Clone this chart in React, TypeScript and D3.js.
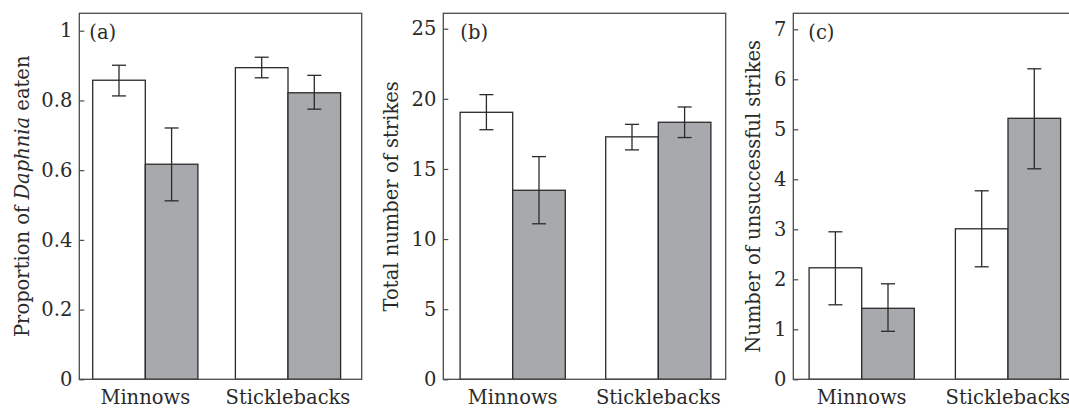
import React, { useEffect, useRef } from "react"
import * as d3 from "d3"

const categories = ["Minnows", "Sticklebacks"]
const series = ["open", "grey"]

// (a) proportion of Daphnia eaten
const propMean = [[0.858, 0.617], [0.894, 0.822]]
const propHi = [[0.901, 0.721], [0.924, 0.872]]
const propLo = [[0.813, 0.512], [0.865, 0.775]]
const propTicks = [0, 0.2, 0.4, 0.6, 0.8, 1]

// (b) total number of strikes
const totalMean = [[19.04, 13.48], [17.29, 18.33]]
const totalHi = [[20.3, 15.88], [18.18, 19.42]]
const totalLo = [[17.8, 11.09], [16.36, 17.24]]
const totalTicks = [0, 5, 10, 15, 20, 25]

// (c) number of unsuccessful strikes
const failMean = [[2.23, 1.42], [3.01, 5.22]]
const failHi = [[2.95, 1.91], [3.77, 6.21]]
const failLo = [[1.49, 0.96], [2.25, 4.21]]
const failTicks = [0, 1, 2, 3, 4, 5, 6, 7]

const FONT = "'DejaVu Serif', serif"
const INK = "#2a2a2a"

const panels = [
    { id: "a", left: 79.3, max: 1.05, mean: propMean, hi: propHi, lo: propLo, ticks: propTicks, fmt: d3.format(""), centers: [66, 208.7], tagDx: 10, labelX: 22 },
    { id: "b", left: 443.3, max: 26.1, mean: totalMean, hi: totalHi, lo: totalLo, ticks: totalTicks, fmt: d3.format("d"), centers: [69.4, 215], tagDx: 17, labelX: 391.7 },
    { id: "c", left: 793.3, max: 7.32, mean: failMean, hi: failHi, lo: failLo, ticks: failTicks, fmt: d3.format("d"), centers: [68.4, 214.7], tagDx: 15, labelX: 753.3 },
]

function App() {
    const ref = useRef(null)

    useEffect(() => {
        var svg = d3.select(ref.current)
        svg.selectAll("*").remove()

        var top = 13.3, bottom = 379.3, w = 282.4
        var barW = 52.6

        panels.forEach((p) => {
            var g = svg.append("g").attr("transform", `translate(${p.left},0)`)

            var y = d3.scaleLinear().domain([0, p.max]).range([bottom, top])
            var x = d3.scalePoint().domain(categories).range(p.centers)
            var xs = d3.scaleBand().domain(series).range([-barW, barW])

            // bars
            categories.forEach((c, i) => {
                var grp = g.append("g").attr("transform", `translate(${x(c)},0)`)
                grp.selectAll("rect")
                    .data(series)
                    .join("rect")
                    .attr("x", (s) => xs(s))
                    .attr("y", (s, j) => y(p.mean[i][j]))
                    .attr("width", xs.bandwidth())
                    .attr("height", (s, j) => bottom - y(p.mean[i][j]))
                    .attr("fill", (s) => (s === "open" ? "#ffffff" : "#a8a9ac"))
                    .attr("stroke", INK)
                    .attr("stroke-width", 1.3)

                // error bars
                var eb = grp.selectAll("g.eb")
                    .data(series)
                    .join("g")
                    .attr("class", "eb")
                    .attr("transform", (s) => `translate(${xs(s) + xs.bandwidth() / 2},0)`)
                eb.append("line")
                    .attr("y1", (s, j) => y(p.hi[i][j]))
                    .attr("y2", (s, j) => y(p.lo[i][j]))
                eb.append("line")
                    .attr("x1", -7).attr("x2", 7)
                    .attr("y1", (s, j) => y(p.hi[i][j]))
                    .attr("y2", (s, j) => y(p.hi[i][j]))
                eb.append("line")
                    .attr("x1", -7).attr("x2", 7)
                    .attr("y1", (s, j) => y(p.lo[i][j]))
                    .attr("y2", (s, j) => y(p.lo[i][j]))
                eb.selectAll("line").attr("stroke", INK).attr("stroke-width", 1.3)
            })

            // frame
            g.append("rect")
                .attr("x", 0).attr("y", top)
                .attr("width", w).attr("height", bottom - top)
                .attr("fill", "none")
                .attr("stroke", "#4a4a4a")
                .attr("stroke-width", 1.3)

            // y axis, ticks pointing inward
            var ax = g.append("g").call(
                d3.axisLeft(y).tickValues(p.ticks).tickFormat(p.fmt).tickSizeInner(-5).tickSizeOuter(0).tickPadding(7)
            )
            ax.select(".domain").remove()
            ax.selectAll("line").attr("stroke", "#4a4a4a").attr("stroke-width", 1.2)
            ax.selectAll("text").attr("font-family", FONT).attr("font-size", 19.5).attr("fill", INK)

            // category labels
            g.selectAll("text.cat")
                .data(categories)
                .join("text")
                .attr("class", "cat")
                .attr("x", (c) => x(c))
                .attr("y", 404)
                .attr("text-anchor", "middle")
                .attr("font-family", FONT)
                .attr("font-size", 19.5)
                .attr("fill", INK)
                .text((c) => c)

            // panel tag
            g.append("text")
                .attr("x", p.tagDx)
                .attr("y", 39)
                .attr("font-family", FONT)
                .attr("font-size", 19.5)
                .attr("fill", INK)
                .text(`(${p.id})`)
        })

        // y axis titles
        var titleY = (bottom + top) / 2
        var t = svg.selectAll("text.ttl")
            .data(panels)
            .join("text")
            .attr("class", "ttl")
            .attr("transform", (p) => `translate(${p.labelX},${titleY}) rotate(-90)`)
            .attr("text-anchor", "middle")
            .attr("dominant-baseline", "central")
            .attr("font-family", FONT)
            .attr("font-size", 19.5)
            .attr("fill", INK)

        t.filter((p) => p.id === "a").each(function () {
            var el = d3.select(this)
            el.append("tspan").text("Proportion of ")
            el.append("tspan").attr("font-style", "italic").text("Daphnia")
            el.append("tspan").text(" eaten")
        })
        t.filter((p) => p.id === "b").text("Total number of strikes")
        t.filter((p) => p.id === "c").text("Number of unsuccessful strikes")
    }, [])

    return (
        <svg ref={ref} width={1069} height={408}
            style={{ position: "absolute", left: 0, top: 0, background: "#fff" }}>
        </svg>
    )
}

export default App
